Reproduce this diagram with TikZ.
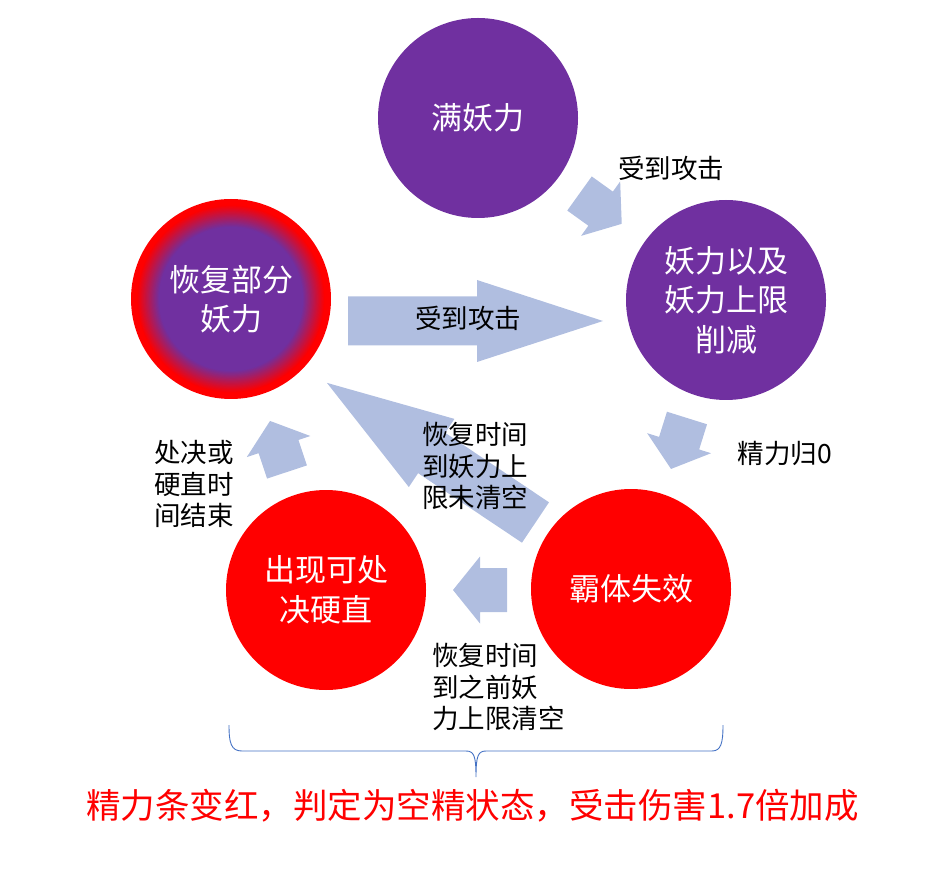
\documentclass[tikz,border=0pt]{standalone}
\usepackage{fontspec}
\setmainfont{Noto Sans CJK SC}
\definecolor{purp}{RGB}{112,48,160}
\definecolor{redc}{RGB}{255,0,0}
\definecolor{arrowc}{RGB}{176,190,224}
\definecolor{bracec}{RGB}{68,114,196}
\begin{document}
\begin{tikzpicture}[x=1pt,y=1pt,
  circ/.style={circle, minimum size=200pt, inner sep=0pt, text=white, align=center, font=\fontsize{31}{39.5}\selectfont},
  lbl/.style={inner sep=0pt, align=center, text=black, font=\fontsize{26.5}{31.5}\selectfont},
  pics/blockarr/.style n args={4}{code={
    \fill[arrowc] (0,-#2) -- ({#1-#4},-#2) -- ({#1-#4},-#3) -- (#1,0) -- ({#1-#4},#3) -- ({#1-#4},#2) -- (0,#2) -- cycle;}},
]
\useasboundingbox (0,0) rectangle (933,876);

% block arrows
\pic[rotate=-35.7] (a1) at (579.5,682.5) {blockarr={52}{21}{33.5}{26}};
\pic[rotate=-107.4] (a2) at (687,458) {blockarr={53.4}{21}{33.5}{27}};
\pic[rotate=180] (a3) at (507,286) {blockarr={54}{22}{33.5}{27}};
\pic[rotate=108.4] (a4) at (287,404) {blockarr={53.8}{21}{33.5}{27}};
\pic (a5) at (348,555) {blockarr={255}{24.5}{41}{126}};
\pic[rotate=146.2] (a6) at (535.5,353.5) {blockarr={251}{24.3}{41}{126}};

% ring-shaded circle background (red rim fading into purple)
\coordinate (rc) at (231,577);
\fill[redc] (rc) circle (100);
\foreach \k in {0,...,40} {
  \pgfmathsetmacro\rr{94-\k*0.55}
  \pgfmathsetmacro\pp{\k*2.5}
  \fill[purp!\pp!redc] (rc) circle (\rr);
}

% circles
\node[circ, fill=purp] (full) at (478,758) {满妖力};
\node[circ, fill=purp] (cut) at (726,576) {妖力以及\\妖力上限\\削减};
\node[circ] (recover) at (rc) {恢复部分\\妖力};
\node[circ, fill=redc] (exec) at (326,286) {出现可处\\决硬直};
\node[circ, fill=redc] (fail) at (631,287) {霸体失效};

% labels
\node[lbl] (l1) at (671,708) {受到攻击};
\node[lbl] (l2) at (785,423) {精力归0};
\node[lbl] (l5) at (468,558) {受到攻击};
\node[lbl, align=left] (l6) at (475,410) {恢复时间\\到妖力上\\限未清空};
\node[lbl] (l4) at (194,392) {处决或\\硬直时\\间结束};
\node[lbl, align=left, anchor=west] (l3) at (432,189) {恢复时间\\到之前妖\\力上限清空};

% brace
\coordinate (bl) at (229,151);
\coordinate (br) at (723,151);
\coordinate (bt) at (476,99);
\draw[bracec, line width=0.9pt] (bl) .. controls (229,133) and (231,125) .. (242,125) -- (466,125)
  .. controls (474,125) and (476,120) .. (bt)
  .. controls (476,120) and (478,125) .. (486,125) -- (712,125)
  .. controls (721,125) and (723,133) .. (br);

% note
\node[inner sep=0pt, text=redc, font=\fontsize{34.5}{40}\selectfont] (note) at (472.5,70) {精力条变红，判定为空精状态，受击伤害1.7倍加成};
\end{tikzpicture}
\end{document}
